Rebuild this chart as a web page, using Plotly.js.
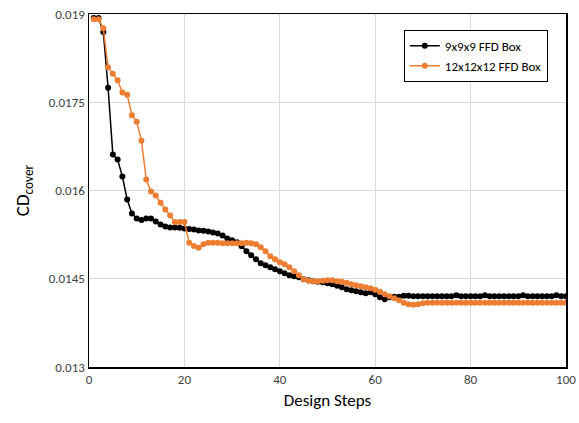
<!DOCTYPE html>
<html>
<head>
<meta charset="utf-8">
<script src="https://cdn.plot.ly/plotly-3.0.1.min.js"></script>
<style>html,body{margin:0;padding:0;background:#fff;}#chart{width:579px;height:423px;}</style>
</head>
<body>
<div id="chart"></div>
<script>
const seriesNames = ["9x9x9 FFD Box", "12x12x12 FFD Box"];
const steps = Array.from({length: 100}, (_, i) => i + 1);

const cd9 = [
  0.018932, 0.018932, 0.018695, 0.017746, 0.016610, 0.016525, 0.016237, 0.015847, 0.015610, 0.015525,
  0.015500, 0.015525, 0.015525, 0.015475, 0.015424, 0.015390, 0.015373, 0.015373, 0.015365, 0.015356,
  0.015347, 0.015339, 0.015322, 0.015314, 0.015305, 0.015288, 0.015271, 0.015237, 0.015186, 0.015153,
  0.015119, 0.015051, 0.014966, 0.014898, 0.014831, 0.014763, 0.014729, 0.014695, 0.014661, 0.014627,
  0.014593, 0.014559, 0.014542, 0.014525, 0.014492, 0.014475, 0.014458, 0.014449, 0.014441, 0.014424,
  0.014407, 0.014381, 0.014356, 0.014322, 0.014305, 0.014288, 0.014271, 0.014254, 0.014271, 0.014237,
  0.014186, 0.014153, 0.014186, 0.014195, 0.014195, 0.014212, 0.014212, 0.014203, 0.014203, 0.014203,
  0.014203, 0.014203, 0.014203, 0.014203, 0.014203, 0.014203, 0.014220, 0.014203, 0.014203, 0.014203,
  0.014203, 0.014203, 0.014220, 0.014203, 0.014203, 0.014203, 0.014203, 0.014203, 0.014203, 0.014203,
  0.014220, 0.014203, 0.014203, 0.014203, 0.014203, 0.014203, 0.014203, 0.014220, 0.014203, 0.014203
];

const cd12 = [
  0.018910, 0.018910, 0.018758, 0.018097, 0.017983, 0.017873, 0.017666, 0.017627, 0.017280, 0.017169,
  0.016847, 0.016186, 0.015983, 0.015915, 0.015791, 0.015678, 0.015576, 0.015463, 0.015463, 0.015463,
  0.015114, 0.015056, 0.015029, 0.015085, 0.015114, 0.015114, 0.015114, 0.015105, 0.015105, 0.015105,
  0.015105, 0.015105, 0.015110, 0.015105, 0.015085, 0.015034, 0.014966, 0.014881, 0.014831, 0.014780,
  0.014746, 0.014695, 0.014627, 0.014559, 0.014492, 0.014466, 0.014458, 0.014458, 0.014466, 0.014475,
  0.014475, 0.014458, 0.014449, 0.014432, 0.014407, 0.014390, 0.014373, 0.014356, 0.014339, 0.014314,
  0.014280, 0.014237, 0.014203, 0.014169, 0.014136, 0.014093, 0.014068, 0.014059, 0.014068, 0.014085,
  0.014093, 0.014093, 0.014093, 0.014093, 0.014093, 0.014093, 0.014093, 0.014093, 0.014093, 0.014093,
  0.014093, 0.014093, 0.014093, 0.014093, 0.014093, 0.014093, 0.014093, 0.014093, 0.014093, 0.014093,
  0.014093, 0.014093, 0.014093, 0.014093, 0.014093, 0.014093, 0.014093, 0.014093, 0.014093, 0.014093
];

const yTicks = [0.013, 0.0145, 0.016, 0.0175, 0.019];
const yTickText = ["0.013", "0.0145", "0.016", "0.0175", "0.019"];
const xTicks = [0, 20, 40, 60, 80, 100];

const font = "Carlito, 'Liberation Sans Narrow', 'Noto Sans', sans-serif";

const traces = [
  {x: steps, y: cd9, name: seriesNames[0], type: "scatter", mode: "lines+markers",
   line: {color: "#000000", width: 1.5}, marker: {color: "#000000", size: 6}},
  {x: steps, y: cd12, name: seriesNames[1], type: "scatter", mode: "lines+markers",
   line: {color: "#ED7D31", width: 1.5}, marker: {color: "#ED7D31", size: 6}}
];

const layout = {
  width: 579, height: 423,
  margin: {l: 89, r: 13, t: 14, b: 56},
  paper_bgcolor: "#fff", plot_bgcolor: "#fff",
  font: {family: font, color: "#404040", size: 13},
  showlegend: true,
  legend: {x: 0.66, y: 0.955, xanchor: "left", yanchor: "top",
           bordercolor: "#000", borderwidth: 1, bgcolor: "#fff",
           font: {size: 13, color: "#000"}, tracegroupgap: 4, itemwidth: 30},
  xaxis: {range: [0, 100], tickvals: xTicks, showgrid: true, gridcolor: "#d9d9d9", gridwidth: 1,
          zeroline: false, showline: true, linecolor: "#000", linewidth: 1.5, mirror: true,
          ticks: "", ticklen: 0, tickfont: {size: 13, color: "#404040"},
          title: {text: "Design Steps", font: {size: 17, color: "#000"}, standoff: 8}},
  yaxis: {range: [0.013, 0.019], tickvals: yTicks, ticktext: yTickText, showgrid: true,
          gridcolor: "#d9d9d9", gridwidth: 1, zeroline: false, showline: true, linecolor: "#000",
          linewidth: 1.5, mirror: true, ticks: "", tickfont: {size: 13, color: "#404040"},
          title: {text: "CD<sub>cover</sub>", font: {size: 19, color: "#000"}, standoff: 14}}
};

Plotly.newPlot("chart", traces, layout, {displayModeBar: false, staticPlot: true});
</script>
</body>
</html>
